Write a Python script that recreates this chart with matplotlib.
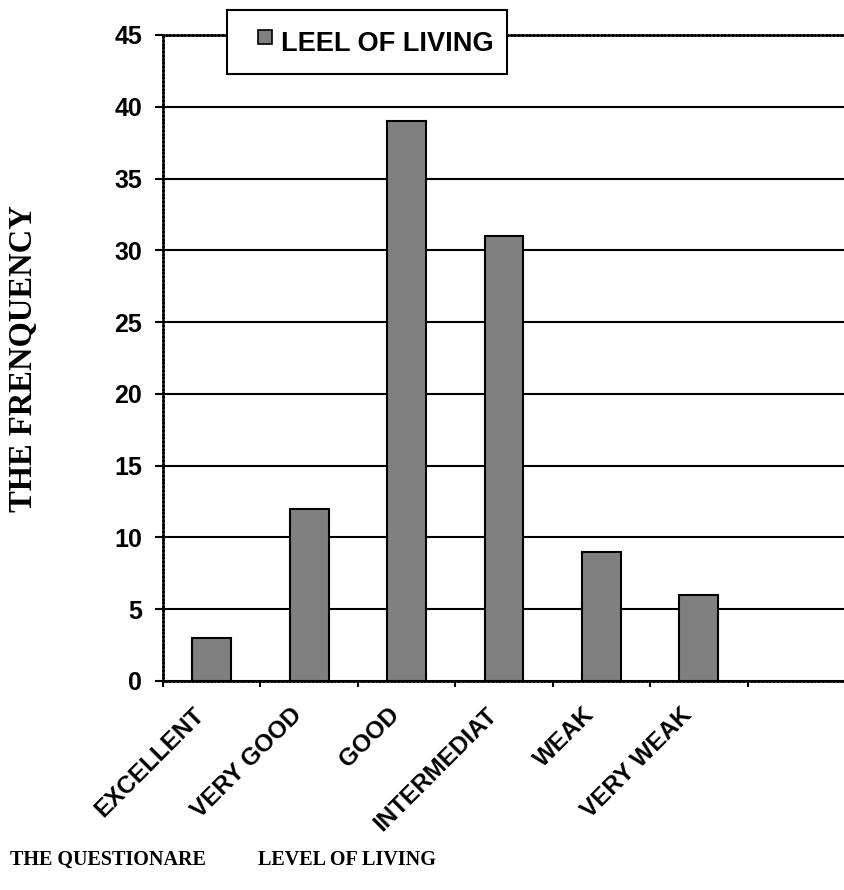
import matplotlib
matplotlib.use("Agg")
import matplotlib.pyplot as plt
from matplotlib.lines import Line2D
from matplotlib.transforms import ScaledTranslation

# data
categories = ["EXCELLENT", "VERY GOOD", "GOOD", "INTERMEDIAT", "WEAK", "VERY WEAK"]
frequency = [3, 12, 39, 31, 9, 6]
n_slots = 7  # the category axis has one empty slot at the end
y_ticks = [0, 5, 10, 15, 20, 25, 30, 35, 40, 45]
series_name = "LEEL OF LIVING"

SANS = "Liberation Sans"
SERIF = "Liberation Serif"
BAR_GRAY = "#808080"

fig = plt.figure(figsize=(8.45, 8.9), dpi=100)
ax = fig.add_axes([163 / 845, 1 - 681 / 890, 682 / 845, 646 / 890])

x = [i + 0.5 for i in range(len(categories))]
ax.bar(x, frequency, width=0.40, color=BAR_GRAY, edgecolor="black",
       linewidth=1.5, zorder=3)

ax.set_xlim(0, n_slots)
ax.set_ylim(0, 45)

# horizontal gridlines
ax.set_yticks(y_ticks)
ax.yaxis.grid(True, color="black", linewidth=1.5, linestyle="-")
ax.set_axisbelow(True)
ax.set_yticklabels([str(v) for v in y_ticks], fontsize=18,
                   fontweight="bold", fontfamily=SANS)
ax.tick_params(axis="y", direction="out", length=6, width=1.5, pad=9)

# major ticks at slot boundaries, labels at category centres
ax.set_xticks(range(n_slots + 1))
ax.set_xticklabels([])
ax.tick_params(axis="x", which="major", direction="out", length=4, width=1.5)
ax.set_xticks(x, minor=True)
ax.set_xticklabels(categories, minor=True, rotation=45, ha="right",
                   va="top", rotation_mode="anchor", fontsize=17.5,
                   fontweight="bold", fontfamily=SANS)
ax.tick_params(axis="x", which="minor", length=0, pad=16)

# dotted frame like the spreadsheet plot area
for side in ["left", "bottom", "top"]:
    ax.spines[side].set_linestyle((0, (1, 0.5)))
    ax.spines[side].set_linewidth(1.8)
    ax.spines[side].set_color("black")
ax.spines["right"].set_visible(False)

# legend box sitting over the top edge
handle = Line2D([], [], linestyle="none", marker="s", markersize=10,
                markerfacecolor=BAR_GRAY, markeredgecolor="black",
                markeredgewidth=1.2)
leg = ax.legend([handle], [series_name], loc="upper left",
                bbox_to_anchor=(227 / 845, 1 - 10 / 890),
                bbox_transform=fig.transFigure, borderaxespad=0,
                frameon=True, fancybox=False, framealpha=1,
                edgecolor="black", handlelength=1.8, handleheight=1.7,
                handletextpad=-0.3, borderpad=0.5,
                prop={"family": SANS, "weight": "bold", "size": 19.5})
leg.get_frame().set_linewidth(1.5)
leg.set_zorder(10)

# axis titles in Times-like bold
fig.text(24 / 845, 1 - 359 / 890, "THE FRENQUENCY", rotation=90,
         ha="center", va="center", fontsize=23.5, fontweight="bold",
         fontfamily=SERIF)
fig.text(10 / 845, 1 - 860 / 890, "THE QUESTIONARE", ha="left",
         va="center", fontsize=14.5, fontweight="bold", fontfamily=SERIF)
fig.text(258 / 845, 1 - 860 / 890, "LEVEL OF LIVING", ha="left",
         va="center", fontsize=14.5, fontweight="bold", fontfamily=SERIF)

# nudge the rotated category labels so they end just left of the bar centre
shift = ScaledTranslation(-19 / 100, 0, fig.dpi_scale_trans)
for tick in ax.xaxis.get_minor_ticks():
    tick.label1.set_transform(tick.label1.get_transform() + shift)

fig.savefig("out.png", dpi=100)
